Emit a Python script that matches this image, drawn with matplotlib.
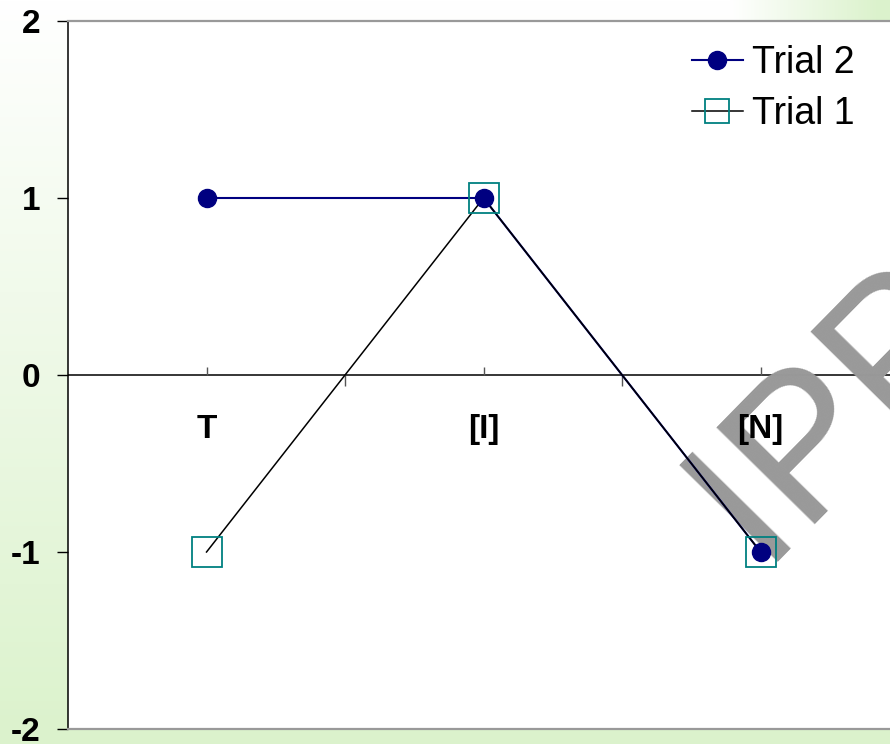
import numpy as np
import matplotlib
matplotlib.use("Agg")
import matplotlib.pyplot as plt
from matplotlib.lines import Line2D

# ---- data ----
categories = ["T", "[I]", "[N]"]
trial2 = [1, 1, -1]
trial1 = [-1, 1, -1]
y_ticks = [-2, -1, 0, 1, 2]
series_labels = ["Trial 2", "Trial 1"]
watermark = "IPP"

W, H = 890, 744
fig = plt.figure(figsize=(W / 100, H / 100), dpi=100)

# background gradient (slide background)
bg = fig.add_axes([0, 0, 1, 1], zorder=-10)
yy, xx = np.mgrid[0:H, 0:W]
a = np.maximum(yy / H, np.clip((xx / W - 0.82) * 6, 0, 1))
a = np.clip(a, 0, 1)[..., None]
green = np.array([0.86, 0.95, 0.80])
img = (1 - a) * np.ones(3) + a * green
bg.imshow(img, aspect="auto", extent=[0, 1, 0, 1])
bg.set_axis_off()

ax = fig.add_axes([68 / W, 1 - 729 / H, 1 - 68 / W, (729 - 21) / H])
ax.set_facecolor("white")
x = np.arange(len(categories))
ax.set_xlim(-0.5, 2.467)
ax.set_ylim(-2, 2)

# spines
ax.spines["right"].set_visible(False)
ax.spines["left"].set_color("black")
ax.spines["left"].set_linewidth(1.1)
for s in ("top", "bottom"):
    ax.spines[s].set_color("#999999")
    ax.spines[s].set_linewidth(1.6)

# zero line with category ticks
ax.axhline(0, color="black", lw=1.1, zorder=1)
ax.vlines(x, 0, 0.045, color="#555555", lw=1.0, zorder=1)
ax.vlines(x[:-1] + 0.5, -0.06, 0, color="#555555", lw=1.0, zorder=1)

# y axis
ax.set_yticks(y_ticks)
ax.set_yticklabels([str(v) for v in y_ticks],
                   fontfamily=["Liberation Sans Narrow", "Liberation Sans"],
                   fontweight="bold", fontsize=24)
ax.tick_params(axis="y", direction="out", length=8, width=1.0, pad=12, colors="black")
ax.set_xticks([])

# category labels below zero line
for xi, lab in zip(x, categories):
    ax.text(xi, -0.356, lab, ha="center", va="baseline", fontsize=24,
            fontweight="bold", fontfamily="Liberation Sans", zorder=2)

# watermark
ax.text(759.4 / W, 1 - 562 / H, watermark, transform=fig.transFigure,
        rotation=45.5, rotation_mode="anchor", ha="left", va="baseline",
        fontsize=145, color="#999999", fontfamily="Liberation Sans",
        zorder=1.5, clip_on=False)

# series
ax.plot(x, trial2, color="#000080", lw=1.5, zorder=2)
ax.plot(x, trial1, color="black", lw=1.1, zorder=3)
ax.plot(x, trial2, ls="none", marker="o", ms=13, color="#000080", zorder=4)
ax.plot(x, trial1, ls="none", marker="s", ms=21, mfc="none", mec="#008080",
        mew=1.3, zorder=5)

handles = [
    Line2D([], [], color="#000080", lw=1.5, marker="o", ms=13),
    Line2D([], [], color="black", lw=1.1, marker="s", ms=17, mfc="none",
           mec="#008080", mew=1.3),
]
leg = fig.legend(handles, series_labels, loc="upper left",
                 bbox_to_anchor=(692 / W, 1 - 45 / H), frameon=False,
                 prop={"family": "Liberation Sans", "size": 27},
                 handlelength=1.35, handletextpad=0.25, labelspacing=0.4,
                 borderpad=0, borderaxespad=0)

fig.savefig("out.png", dpi=100)
